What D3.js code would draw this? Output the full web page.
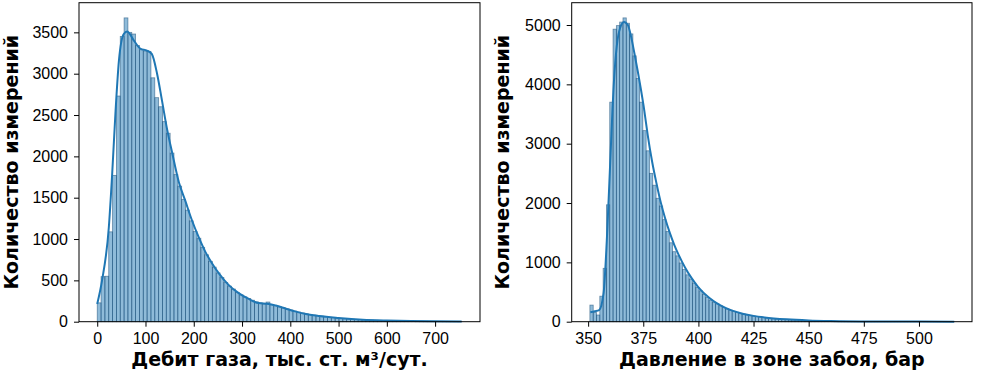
<!DOCTYPE html>
<html>
<head>
<meta charset="utf-8">
<script src="https://cdnjs.cloudflare.com/ajax/libs/d3/7.8.5/d3.min.js"></script>
<style>
  body { margin: 0; background: #fff; }
  svg { display: block; font-family: "DejaVu Sans", sans-serif; }
  .tick text { font-size: 16px; fill: #000; }
  .tick line, .domain { stroke: #000; }
  .label { font-size: 19px; font-weight: bold; fill: #000; }
</style>
</head>
<body>
<div id="chart"></div>
<script>
// Left panel: gas rate histogram (bin start, bin width, counts per bin)
const gasBinStart = 0;
const gasBinWidth = 7.95;
const gasCounts = [228, 545, 550, 1087, 1770, 2730, 3450, 3675, 3500, 3480,
  3340, 3290, 3275, 3270, 2950, 2710, 2600, 2420, 2280, 2040,
  1780, 1640, 1480, 1350, 1220, 1090, 1010, 900, 810, 730,
  660, 590, 535, 475, 430, 395, 355, 325, 300, 280,
  260, 240, 228, 215, 238, 205, 195, 180, 168, 155,
  142, 128, 116, 105, 96, 88, 80, 72, 66, 60,
  54, 49, 44, 40, 36, 33, 30, 27, 24, 22,
  20, 18, 16, 14, 13, 12, 10, 9, 8, 8,
  7, 6, 6, 5, 5, 4, 4, 3, 3, 3,
  2, 2, 2, 1, 1];
const gasKdeX = [0, 10, 24, 31, 38, 45, 55, 62, 76, 90, 103, 113, 124, 134, 145, 155, 169, 182, 196, 210,
  224, 238, 252, 272, 293, 314, 334, 355, 370, 390, 410, 430, 460, 500, 550, 600, 650, 700, 755];
const gasKdeY = [215, 500, 1140, 1790, 2550, 3160, 3480, 3510, 3400, 3300, 3280, 3240, 3000, 2680, 2320, 2050, 1690, 1470, 1230, 1025,
  845, 705, 585, 445, 345, 275, 225, 215, 195, 160, 125, 95, 68, 45, 24, 14, 8, 4, 2];
const gasXTicks = [0, 100, 200, 300, 400, 500, 600, 700];
const gasYTicks = [0, 500, 1000, 1500, 2000, 2500, 3000, 3500];

// Right panel: bottomhole pressure histogram
const presBinStart = 350.8;
const presBinWidth = 1.5;
const presCounts = [280, 155, 113, 430, 900, 1970, 3700, 4930, 4990, 5050,
  5120, 5030, 4850, 4480, 4100, 3700, 3220, 2880, 2500, 2300,
  2080, 1950, 1720, 1520, 1330, 1180, 1110, 990, 880, 790,
  720, 650, 580, 520, 460, 410, 365, 330, 300, 270,
  240, 215, 195, 175, 158, 142, 128, 116, 105, 95,
  86, 78, 70, 63, 56, 50, 45, 40, 36, 32,
  28, 25, 22, 20, 18, 16, 14, 13, 12, 11,
  10, 9, 8, 7, 7, 6, 6, 5, 5, 4,
  4, 4, 3, 3, 3, 3, 2, 2, 2, 2,
  2, 2, 1, 1, 1, 1, 1, 1, 1, 1,
  1, 1, 1, 1, 1, 1, 1, 1, 1, 1];
const presKdeX = [351, 353, 355, 357, 358.7, 360.2, 361.7, 363, 364.5, 366.3, 368, 369.5, 371, 372.5, 374, 375.5, 377, 379, 381, 383,
  385, 387, 389, 391, 394, 397, 400, 405, 410, 415, 420, 425, 430, 440, 450, 460, 480, 500, 516];
const presKdeY = [160, 175, 195, 480, 1550, 2850, 4050, 4650, 4950, 5050, 5000, 4800, 4520, 4220, 3900, 3550, 3150, 2700, 2330, 2000,
  1730, 1500, 1300, 1130, 910, 730, 580, 400, 275, 190, 135, 98, 72, 40, 22, 12, 4, 2, 1];
const presXTicks = [350, 375, 400, 425, 450, 475, 500];
const presYTicks = [0, 1000, 2000, 3000, 4000, 5000];

const yLabel = "Количество измерений";
const gasXLabel = "Дебит газа, тыс. ст. м³/сут.";
const presXLabel = "Давление в зоне забоя, бар";

const W = 987, H = 375;
const svg = d3.select("#chart").append("svg").attr("width", W).attr("height", H);

const color = "#1f77b4";

function drawPanel(opt) {
  const bins = opt.counts.map((c, i) => ({
    x0: opt.binStart + i * opt.binWidth,
    x1: opt.binStart + (i + 1) * opt.binWidth,
    c: c
  }));
  const lo = opt.binStart, hi = opt.binStart + opt.counts.length * opt.binWidth;
  const pad = (hi - lo) * 0.05;

  const x = d3.scaleLinear().domain([lo - pad, hi + pad]).range([opt.left, opt.right]);
  const y = d3.scaleLinear().domain([0, d3.max(opt.counts) * 1.05]).range([opt.bottom, opt.top]);

  const g = svg.append("g");

  g.selectAll(".bar")
    .data(bins)
    .enter().append("rect")
    .attr("class", "bar")
    .attr("x", d => x(d.x0))
    .attr("width", d => x(d.x1) - x(d.x0))
    .attr("y", d => y(d.c))
    .attr("height", d => y(0) - y(d.c))
    .attr("fill", color)
    .attr("fill-opacity", 0.5)
    .attr("stroke", "#1b4f78")
    .attr("stroke-opacity", 0.6)
    .attr("stroke-width", 0.8);

  const line = d3.line()
    .x((d, i) => x(opt.kdeX[i]))
    .y(d => y(d))
    .curve(d3.curveMonotoneX);

  g.append("path")
    .datum(opt.kdeY)
    .attr("d", line)
    .attr("fill", "none")
    .attr("stroke", color)
    .attr("stroke-width", 2);

  // frame
  g.append("rect")
    .attr("x", opt.left).attr("y", opt.top)
    .attr("width", opt.right - opt.left).attr("height", opt.bottom - opt.top)
    .attr("fill", "none").attr("stroke", "#000").attr("stroke-width", 1);

  g.append("g")
    .attr("transform", `translate(0,${opt.bottom})`)
    .call(d3.axisBottom(x).tickValues(opt.xTicks).tickSize(5).tickPadding(6).tickFormat(d3.format("d")))
    .call(a => a.select(".domain").remove());

  g.append("g")
    .attr("transform", `translate(${opt.left},0)`)
    .call(d3.axisLeft(y).tickValues(opt.yTicks).tickSize(5).tickPadding(6).tickFormat(d3.format("d")))
    .call(a => a.select(".domain").remove());

  g.selectAll(".tick text").attr("font-family", null);

  g.append("text")
    .attr("class", "label")
    .attr("x", (opt.left + opt.right) / 2)
    .attr("y", 366)
    .attr("text-anchor", "middle")
    .text(opt.xLabel);

  g.append("text")
    .attr("class", "label")
    .attr("transform", `translate(${opt.yLabelX},${(opt.top + opt.bottom) / 2}) rotate(-90)`)
    .attr("text-anchor", "middle")
    .text(yLabel);
}

drawPanel({
  left: 79, right: 480, top: 2.7, bottom: 321.7,
  binStart: gasBinStart, binWidth: gasBinWidth, counts: gasCounts,
  kdeX: gasKdeX, kdeY: gasKdeY,
  xTicks: gasXTicks, yTicks: gasYTicks,
  xLabel: gasXLabel, yLabelX: 18
});

drawPanel({
  left: 571.7, right: 972, top: 2.7, bottom: 321.7,
  binStart: presBinStart, binWidth: presBinWidth, counts: presCounts,
  kdeX: presKdeX, kdeY: presKdeY,
  xTicks: presXTicks, yTicks: presYTicks,
  xLabel: presXLabel, yLabelX: 509
});
</script>
</body>
</html>
